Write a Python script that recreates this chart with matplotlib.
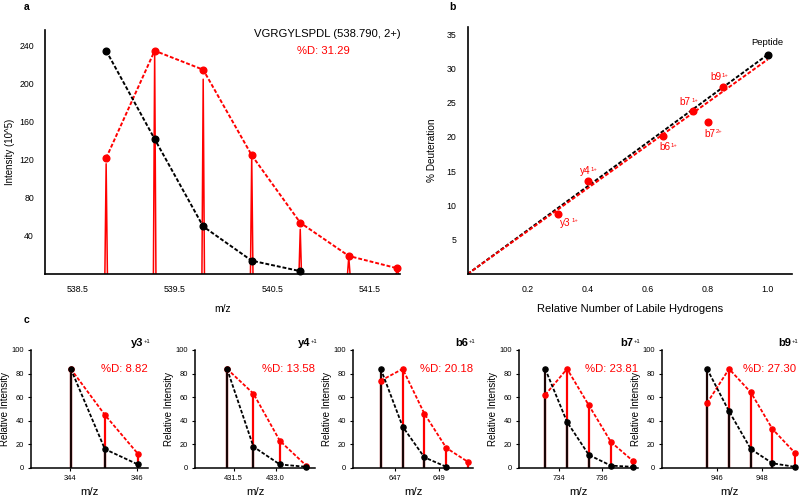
import matplotlib
matplotlib.use("Agg")
import matplotlib.pyplot as plt
from matplotlib.ticker import FormatStrFormatter

plt.rcParams["font.family"] = ["Liberation Sans", "DejaVu Sans"]

RED = "#ff0000"
DASH = (0, (2, 1))

# panel a: isotope envelope of the peptide (2+)
iso_mz = [538.79, 539.29, 539.79, 540.29, 540.79, 541.29, 541.79]
undeut_env = [235, 142, 50, 14, 3]
deut_env = [122, 235, 215, 125, 54, 19, 6]
deut_peaks = [116, 234, 205, 125, 47, 18, 4]
pep_name = "VGRGYLSPDL (538.790, 2+)"
pep_pct = "31.29"

# panel b: % deuteration vs relative number of labile hydrogens
frag_frac = [0.30, 0.40, 0.65, 0.75, 0.80, 0.85]
frag_pctd = [8.82, 13.58, 20.18, 23.81, 22.10, 27.30]
frag_ion = ["y3", "y4", "b6", "b7", "b7", "b9"]
frag_chg = ["1+", "1+", "1+", "1+", "2+", "1+"]
pep_frac = 1.0
pep_pctd = 32.0
fit_end = 31.29

# panel c: fragment isotope envelopes
c_titles = ["y3", "y4", "b6", "b7", "b9"]
c_pct = ["8.82", "13.58", "20.18", "23.81", "27.30"]
c_mz = [
    [344.02, 345.04, 346.03],
    [431.27, 432.21, 433.15, 434.09],
    [646.36, 647.35, 648.33, 649.32, 650.31],
    [733.36, 734.37, 735.38, 736.40, 737.41],
    [945.57, 946.55, 947.52, 948.48, 949.47],
]
c_undeut = [
    [84, 16, 3],
    [84, 18, 3, 1],
    [84, 35, 9, 1],
    [84, 39, 11, 2, 1],
    [84, 48, 16, 4, 1],
]
c_deut = [
    [84, 45, 12],
    [84, 63, 23, 2],
    [74, 84, 46, 17, 5],
    [62, 84, 53, 22, 6],
    [55, 84, 64, 33, 13],
]
c_ticks = [[344, 346], [431.5, 433.0], [647, 649], [734, 736], [946, 948]]
c_fmt = ["%d", "%.1f", "%d", "%d", "%d"]


def style_axes(ax, lw=1.2):
    for s in ["top", "right"]:
        ax.spines[s].set_visible(False)
    for s in ["left", "bottom"]:
        ax.spines[s].set_linewidth(lw)


def sup(ax, main, text, size, color):
    # small superscript glued to the top right of a text
    ax.annotate(text, xy=(1.0, 0.92), xycoords=main, xytext=(0.5, 0),
                textcoords="offset points", ha="left", va="top",
                fontsize=size, color=color)


fig = plt.figure(figsize=(8, 5), dpi=100)

# ---- panel a
ax = fig.add_axes([0.05625, 0.452, 0.444, 0.488])
style_axes(ax)
for x, h in zip(iso_mz, deut_peaks):
    ax.plot([x - 0.013, x, x + 0.013], [0, h, 0], color=RED, lw=1.1)
ax.plot(iso_mz, deut_env, ls=DASH, color=RED, lw=1.4, marker="o", ms=4.8, clip_on=False)
ax.plot(iso_mz[:len(undeut_env)], undeut_env, ls=DASH, color="black", lw=1.4,
        marker="o", ms=4.8, clip_on=False)
ax.set_xlim(538.16, 541.82)
ax.set_ylim(0, 256.8)
ax.set_xticks([538.5, 539.5, 540.5, 541.5])
ax.set_yticks([40, 80, 120, 160, 200, 240])
ax.tick_params(length=0, labelsize=6.3, pad=8)
ax.set_xlabel("m/z", fontsize=7.5)
ax.xaxis.set_label_coords(0.5, -0.123)
ax.set_ylabel("Intensity (10^5)", fontsize=7)
ax.yaxis.set_label_coords(-0.085, 0.5)
ax.text(1.0, 0.984, pep_name, transform=ax.transAxes, ha="right", va="center", fontsize=8.1)
ax.text(0.783, 0.914, "%D: " + pep_pct, transform=ax.transAxes, ha="center", va="center",
        fontsize=8.1, color=RED)
fig.text(27 / 800, 1 - 7 / 500, "a", fontsize=7.5, fontweight="bold", ha="center", va="center")

# ---- panel b
ax = fig.add_axes([0.5846, 0.452, 0.405, 0.4946])
style_axes(ax)
ax.plot([0, pep_frac], [0, pep_pctd], ls=DASH, color="black", lw=1.4)
ax.plot([0, pep_frac], [0, fit_end], ls=DASH, color=RED, lw=1.4)
ax.plot(frag_frac, frag_pctd, ls="none", marker="o", ms=4.8, color=RED)
ax.plot([pep_frac], [pep_pctd], ls="none", marker="o", ms=4.8, color="black")
offsets = [(2, -6.5, "left"), (-2, 7, "center"), (1.5, -8, "center"),
           (-5.5, 6, "center"), (1.5, -8, "center"), (-5, 7, "center")]
for x, y, ion, chg, (dx, dy, ha) in zip(frag_frac, frag_pctd, frag_ion, frag_chg, offsets):
    t = ax.annotate(ion, (x, y), xytext=(dx, dy), textcoords="offset points",
                    ha=ha, va="center", fontsize=7.2, color=RED)
    sup(ax, t, chg, 4.2, RED)
ax.annotate("Peptide", (pep_frac, pep_pctd), xytext=(0, 8.5), textcoords="offset points",
            ha="center", va="center", fontsize=6.8, color="black")
ax.set_xlim(0, 1.08)
ax.set_ylim(0, 36.07)
ax.set_xticks([0.2, 0.4, 0.6, 0.8, 1.0])
ax.set_yticks([5, 10, 15, 20, 25, 30, 35])
ax.xaxis.set_major_formatter(FormatStrFormatter("%.1f"))
ax.tick_params(length=0, labelsize=6.3, pad=8)
ax.set_xlabel("Relative Number of Labile Hydrogens", fontsize=8)
ax.xaxis.set_label_coords(0.5, -0.123)
ax.set_ylabel("% Deuteration", fontsize=7.2)
ax.yaxis.set_label_coords(-0.095, 0.5)
fig.text(452.7 / 800, 1 - 7 / 500, "b", fontsize=7.5, fontweight="bold", ha="center", va="center")

# ---- panel c
c_pos = [(31, 117), (195, 120), (353.3, 119.4), (519, 119.3), (662.3, 134)]
c_xlim = [(342.83, 346.33), (430.13, 434.4), (645.12, 650.51), (732.15, 737.66), (943.58, 949.54)]
for i in range(5):
    left, width = c_pos[i]
    ax = fig.add_axes([left / 800, 32 / 500, width / 800, 118 / 500])
    style_axes(ax, lw=1.1)
    mz = c_mz[i]
    ud = c_undeut[i]
    dd = c_deut[i]
    ax.vlines(mz, 0, dd, color=RED, lw=1.6)
    ax.vlines(mz[:len(ud)], 0, ud, color="#1a0505", lw=1.6)
    ax.plot(mz, dd, ls=DASH, color=RED, lw=1.3, marker="o", ms=3.7, clip_on=False)
    ax.plot(mz[:len(ud)], ud, ls=DASH, color="black", lw=1.3, marker="o", ms=3.7, clip_on=False)
    ax.set_xlim(*c_xlim[i])
    ax.set_ylim(0, 100)
    ax.set_xticks(c_ticks[i])
    ax.xaxis.set_major_formatter(FormatStrFormatter(c_fmt[i]))
    ax.set_yticks([0, 20, 40, 60, 80, 100])
    ax.tick_params(length=2, width=0.8, labelsize=5.4, pad=3)
    ax.set_xlabel("m/z", fontsize=8.2)
    ax.xaxis.set_label_coords(0.5, -0.16)
    ax.set_ylabel("Relative Intensity", fontsize=7)
    ax.yaxis.set_label_coords(-21 / width, 0.5)
    t = ax.annotate(c_titles[i], xy=(1.0, 1.06), xycoords="axes fraction", xytext=(-3.5, 0),
                    textcoords="offset points", ha="right", va="center",
                    fontsize=8, fontweight="bold")
    sup(ax, t, "+1", 4.2, "black")
    ax.text(1.0, 0.836, "%D: " + c_pct[i], transform=ax.transAxes, ha="right", va="center",
            fontsize=8.2, color=RED)
fig.text(27 / 800, 1 - 320 / 500, "c", fontsize=7.5, fontweight="bold", ha="center", va="center")

fig.savefig("out.png", dpi=100)
